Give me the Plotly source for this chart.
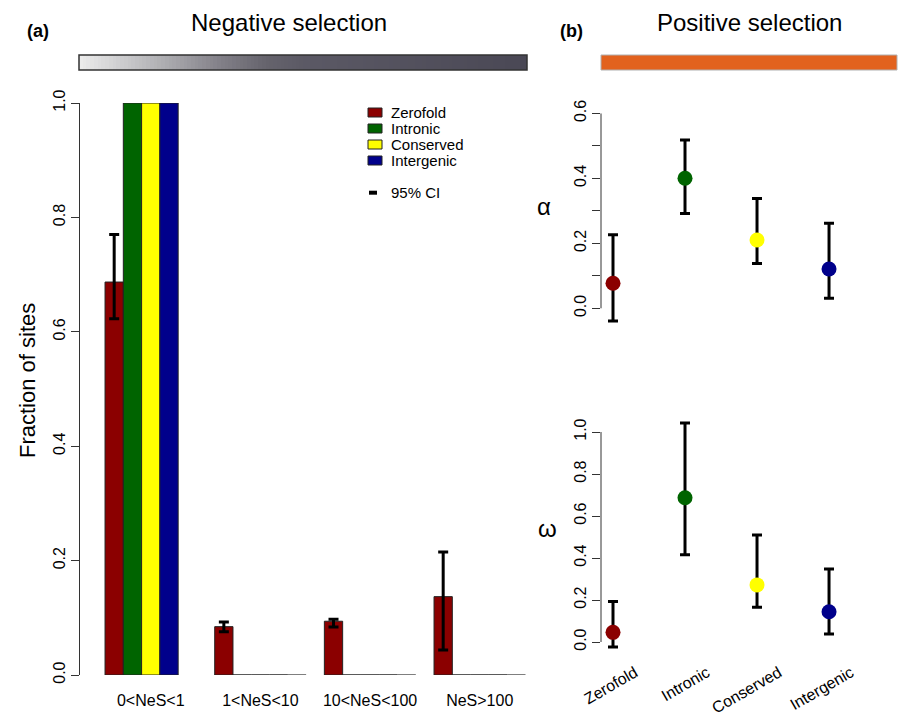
import plotly.graph_objects as go

# ---------------- data ----------------
nes_classes = ["0<NeS<1", "1<NeS<10", "10<NeS<100", "NeS>100"]
site_classes = ["Zerofold", "Intronic", "Conserved", "Intergenic"]
site_colors = ["#8B0000", "#006400", "#FFFF00", "#00008B"]

frac_zerofold = [0.687, 0.0845, 0.094, 0.137]
frac_zerofold_lo = [0.623, 0.0757, 0.0839, 0.0437]
frac_zerofold_hi = [0.770, 0.0927, 0.0974, 0.215]
frac_intronic = [1.0, 0.0, 0.0, 0.0]
frac_conserved = [1.0, 0.0, 0.0, 0.0]
frac_intergenic = [1.0, 0.0, 0.0, 0.0]
frac_extra = [None, 0.0, 0.0, 0.0]   # fifth (unlabelled) row of the barplot matrix

alpha_val = [0.077, 0.400, 0.210, 0.121]
alpha_lo = [-0.039, 0.292, 0.138, 0.031]
alpha_hi = [0.226, 0.518, 0.338, 0.262]

omega_val = [0.046, 0.687, 0.272, 0.144]
omega_lo = [-0.024, 0.415, 0.166, 0.038]
omega_hi = [0.193, 1.043, 0.509, 0.348]

alpha_ticks = [0.0, 0.1, 0.2, 0.3, 0.4, 0.5, 0.6]
alpha_ticktext = ["0.0", "", "0.2", "", "0.4", "", "0.6"]
omega_ticks = [0.0, 0.2, 0.4, 0.6, 0.8, 1.0]
frac_ticks = [0.0, 0.2, 0.4, 0.6, 0.8, 1.0]

grad_stops = [(0.0, "#ebebeb"), (0.2, "#a9a9ad"), (0.32, "#807e86"),
              (0.42, "#65636c"), (0.5, "#5b5965"), (1.0, "#4a4855")]
grad_cells = list(range(120))

W, H = 898, 718
FONT = "Liberation Sans, Arial, sans-serif"


def px(x):
    return x / W


def py(y):
    return 1 - y / H


fig = go.Figure()

# ---------------- panel (a): bars ----------------
bar_series = [frac_zerofold, frac_intronic, frac_conserved, frac_intergenic]
for i, (name, vals) in enumerate(zip(site_classes, bar_series)):
    kw = {}
    if i == 0:
        kw["error_y"] = dict(type="data", symmetric=False,
                             array=[h - v for h, v in zip(frac_zerofold_hi, vals)],
                             arrayminus=[v - l for v, l in zip(vals, frac_zerofold_lo)],
                             color="black", thickness=3, width=5)
    fig.add_trace(go.Bar(x=nes_classes, y=vals, name=name,
                         marker=dict(color=site_colors[i], line=dict(color="#222", width=1)),
                         showlegend=False, xaxis="x", yaxis="y", **kw))
fig.add_trace(go.Bar(x=nes_classes, y=frac_extra, name="(unlabelled)",
                     marker=dict(color="white", line=dict(color="#555", width=1)),
                     showlegend=False, xaxis="x", yaxis="y"))

# ---------------- panel (b): alpha ----------------
fig.add_trace(go.Scatter(
    x=site_classes, y=alpha_val, mode="markers", xaxis="x2", yaxis="y2",
    marker=dict(color=site_colors, size=15, line=dict(width=0)), showlegend=False,
    error_y=dict(type="data", symmetric=False,
                 array=[h - v for h, v in zip(alpha_hi, alpha_val)],
                 arrayminus=[v - l for v, l in zip(alpha_val, alpha_lo)],
                 color="black", thickness=3, width=5), cliponaxis=False))

# ---------------- panel (b): omega ----------------
fig.add_trace(go.Scatter(
    x=site_classes, y=omega_val, mode="markers", xaxis="x4", yaxis="y4",
    marker=dict(color=site_colors, size=15, line=dict(width=0)), showlegend=False,
    error_y=dict(type="data", symmetric=False,
                 array=[h - v for h, v in zip(omega_hi, omega_val)],
                 arrayminus=[v - l for v, l in zip(omega_val, omega_lo)],
                 color="black", thickness=3, width=5), cliponaxis=False))

# ---------------- gradient bar ----------------
fig.add_trace(go.Heatmap(z=[grad_cells], xaxis="x3", yaxis="y3",
                         colorscale=[list(s) for s in grad_stops],
                         showscale=False, hoverinfo="skip"))

tickfont = dict(family=FONT, size=16, color="black")
axcol = "#333"
common = dict(showgrid=False, zeroline=False, automargin=False)

fig.update_layout(
    template="none",
    width=W, height=H, margin=dict(l=0, r=0, t=0, b=0, pad=0, autoexpand=False),
    paper_bgcolor="white", plot_bgcolor="white",
    font=dict(family=FONT, color="black"),
    showlegend=False,
    barmode="group", bargap=1 / 6, bargroupgap=0,
    xaxis=dict(domain=[px(80), px(527)], range=[-0.645, 3.431], anchor="y",
               showline=False, ticks="", tickfont=tickfont, ticklabelstandoff=14, **common),
    yaxis=dict(domain=[py(675), py(103)], range=[0, 1], anchor="x",
               showline=True, linecolor=axcol, linewidth=1,
               ticks="outside", ticklen=8, tickcolor=axcol, tickvals=frac_ticks,
               ticktext=[f"{t:.1f}" for t in frac_ticks], tickangle=-90, tickfont=tickfont,
               **common),
    xaxis2=dict(domain=[px(601), px(897)], range=[-0.1667, 3.944], anchor="y2",
                showline=False, ticks="", showticklabels=False, **common),
    yaxis2=dict(domain=[py(327.8), py(113.3)], range=[-0.06, 0.6], anchor="x2",
                showline=False, ticks="outside", ticklen=8, tickcolor=axcol,
                tickvals=alpha_ticks, ticktext=alpha_ticktext, tickangle=-90,
                tickfont=tickfont, **common),
    xaxis4=dict(domain=[px(601), px(897)], range=[-0.1667, 3.944], anchor="y4",
                showline=False, ticks="", tickangle=-30, tickfont=tickfont,
                ticklabelshift=22, ticklabelstandoff=7, **common),
    yaxis4=dict(domain=[py(652.5), py(419.4)], range=[-0.05, 1.06], anchor="x4",
                showline=False, ticks="outside", ticklen=8, tickcolor=axcol,
                tickvals=omega_ticks, ticktext=[f"{t:.1f}" for t in omega_ticks],
                tickangle=-90, tickfont=tickfont, **common),
    xaxis3=dict(domain=[px(79), px(527)], anchor="y3", visible=False, fixedrange=True,
                **common),
    yaxis3=dict(domain=[py(70), py(55)], anchor="x3", visible=False, fixedrange=True,
                **common),
)

shapes = []
# gradient bar border
shapes.append(dict(type="rect", xref="paper", yref="paper", x0=px(79), x1=px(527),
                   y0=py(70), y1=py(55), line=dict(color="#333", width=1.5)))
# orange positive-selection bar
shapes.append(dict(type="rect", xref="paper", yref="paper", x0=px(601), x1=px(897),
                   y0=py(70), y1=py(55), fillcolor="#E2621E",
                   line=dict(color="#b0b0b0", width=1)))
# R-style axis lines spanning only the labelled range
shapes.append(dict(type="line", xref="paper", yref="y2", x0=px(601), x1=px(601),
                   y0=alpha_ticks[0], y1=alpha_ticks[-1], line=dict(color=axcol, width=1)))
shapes.append(dict(type="line", xref="paper", yref="y4", x0=px(601), x1=px(601),
                   y0=omega_ticks[0], y1=omega_ticks[-1], line=dict(color=axcol, width=1)))

annotations = []
# legend (R-style, compact)
leg_rows = [112.5, 128.5, 144.5, 160.5]
for name, col, yy in zip(site_classes, site_colors, leg_rows):
    shapes.append(dict(type="rect", xref="paper", yref="paper", x0=px(368), x1=px(382),
                       y0=py(yy + 4.5), y1=py(yy - 4.5), fillcolor=col,
                       line=dict(color="#222", width=1)))
    annotations.append(dict(text=name, x=px(390), y=py(yy), xref="paper", yref="paper",
                            xanchor="left", yanchor="middle", showarrow=False,
                            borderpad=0, font=dict(family=FONT, size=15)))
shapes.append(dict(type="line", xref="paper", yref="paper", x0=px(369), x1=px(377),
                   y0=py(192.7), y1=py(192.7), line=dict(color="black", width=4)))
annotations.append(dict(text="95% CI", x=px(390), y=py(192.7), xref="paper", yref="paper",
                        xanchor="left", yanchor="middle", showarrow=False,
                        borderpad=0, font=dict(family=FONT, size=15)))

# titles and panel letters
annotations += [
    dict(text="Negative selection", x=px(289), y=py(23), xref="paper", yref="paper",
         xanchor="center", yanchor="middle", showarrow=False, font=dict(family=FONT, size=24)),
    dict(text="Positive selection", x=px(749), y=py(23), xref="paper", yref="paper",
         xanchor="center", yanchor="middle", showarrow=False, font=dict(family=FONT, size=24)),
    dict(text="<b>(a)</b>", x=px(37.5), y=py(31), xref="paper", yref="paper",
         xanchor="center", yanchor="middle", showarrow=False, font=dict(family=FONT, size=18)),
    dict(text="<b>(b)</b>", x=px(571), y=py(31), xref="paper", yref="paper",
         xanchor="center", yanchor="middle", showarrow=False, font=dict(family=FONT, size=18)),
    dict(text="Fraction of sites", x=px(27), y=py(381), xref="paper", yref="paper",
         xanchor="center", yanchor="middle", textangle=-90, showarrow=False,
         font=dict(family=FONT, size=22)),
    dict(text="α", x=px(544), y=py(207), xref="paper", yref="paper",
         xanchor="center", yanchor="middle", showarrow=False, font=dict(family=FONT, size=24)),
    dict(text="ω", x=px(547), y=py(528), xref="paper", yref="paper",
         xanchor="center", yanchor="middle", showarrow=False, font=dict(family=FONT, size=24)),
]

fig.update_layout(shapes=shapes, annotations=annotations)
fig.write_html("out.html")
